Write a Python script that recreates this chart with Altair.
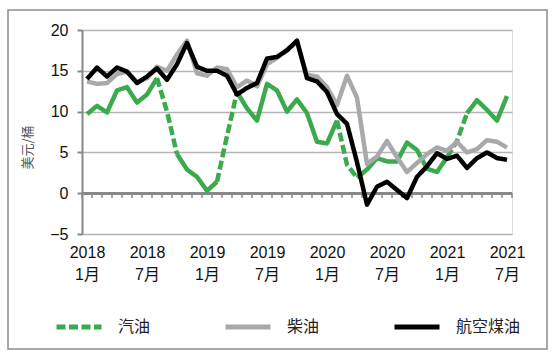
import json
import altair as alt
import pandas as pd

# ---- data ----
gasoline = [9.7, 10.7, 9.9, 12.6, 13.0, 11.1, 12.1, 14.1, 10.0, 4.8,
            2.9, 2.0, 0.3, 1.4, 7.0, 12.4, 10.4, 8.9, 13.4, 12.6,
            10.0, 11.5, 9.8, 6.3, 6.1, 8.9, 3.5, 1.9, 2.9, 4.3,
            3.9, 3.9, 6.2, 5.3, 3.0, 2.6, 4.4, 6.4, 9.8, 11.4,
            10.2, 8.9, 11.9]
diesel = [13.7, 13.4, 13.5, 14.6, 14.9, 13.6, 14.1, 15.5, 15.0, 17.0,
          18.7, 14.7, 14.4, 15.4, 15.2, 13.0, 13.8, 13.1, 15.8, 16.6,
          17.6, 18.5, 14.5, 14.3, 13.0, 10.8, 14.4, 11.7, 3.6, 4.5,
          6.4, 4.4, 2.6, 3.7, 4.8, 5.6, 5.2, 6.3, 5.0, 5.4,
          6.5, 6.3, 5.6]
jet_fuel = [14.0, 15.4, 14.3, 15.4, 14.9, 13.5, 14.3, 15.3, 13.9, 15.8,
            18.4, 15.5, 15.0, 15.0, 14.4, 12.1, 12.9, 13.5, 16.5, 16.7,
            17.5, 18.7, 14.1, 13.7, 12.4, 9.7, 8.5, 3.8, -1.4, 0.8,
            1.4, 0.4, -0.6, 2.0, 3.3, 4.9, 4.2, 4.6, 3.1, 4.3,
            5.0, 4.3, 4.1]
series_names = ["汽油", "柴油", "航空煤油"]
gasoline_dashed_spans = [(7, 9), (13, 15), (25, 27), (36, 38)]
tick_months = [0, 6, 12, 18, 24, 30, 36, 42]
tick_labels = [["2018", "1月"], ["2018", "7月"], ["2019", "1月"], ["2019", "7月"],
               ["2020", "1月"], ["2020", "7月"], ["2021", "1月"], ["2021", "7月"]]
y_ticks = [-5, 0, 5, 10, 15, 20]

n = len(gasoline)
SOLID_GAS = "汽油-实线"

rows = []
# gasoline split into solid and dashed runs
bounds = [0]
for a, b in gasoline_dashed_spans:
    bounds += [a, b]
bounds.append(n - 1)
dashed_set = set(gasoline_dashed_spans)
for k in range(len(bounds) - 1):
    a, b = bounds[k], bounds[k + 1]
    style = series_names[0] if (a, b) in dashed_set else SOLID_GAS
    for i in range(a, b + 1):
        rows.append(dict(i=i, v=gasoline[i], series=series_names[0], style=style, seg=f"g{k}"))
for name, vals in [(series_names[1], diesel), (series_names[2], jet_fuel)]:
    for i, v in enumerate(vals):
        rows.append(dict(i=i, v=v, series=name, style=name, seg=name))
df = pd.DataFrame(rows)

boundaries = pd.DataFrame({"b": [k - 0.5 for k in range(n + 1)]})

GREEN = "#3BAA4C"
GRAY = "#A7A9AC"
BLACK = "#000000"
FONT = "Liberation Sans, Noto Sans CJK SC"
CJK = "Noto Sans CJK SC"

label_expr = json.dumps(tick_labels, ensure_ascii=False) + "[round(datum.value/6)]"

x_enc = alt.X("i:Q",
              scale=alt.Scale(domain=[-0.5, n - 0.5], nice=False, zero=False),
              axis=alt.Axis(values=tick_months, labelExpr=label_expr, title=None,
                            domain=False, ticks=False, grid=False,
                            labelFont=FONT, labelFontSize=16, labelColor="#111",
                            labelPadding=10, labelLineHeight=22, labelBaseline="top"))
y_enc = alt.Y("v:Q",
              scale=alt.Scale(domain=[-5, 20], nice=False),
              axis=alt.Axis(values=y_ticks, title="美元/桶", titleFont=CJK,
                            titleFontSize=13, titleFontWeight="normal", titleColor="#555",
                            titleX=-55, titleY=117, titleAngle=-90,
                            titleAlign="center", titleBaseline="middle",
                            labelFont=FONT, labelFontSize=16, labelColor="#111",
                            labelPadding=9, tickSize=5, tickColor="#888", tickWidth=2,
                            domainColor="#888", domainWidth=2,
                            grid=True, gridColor="#B5B5B5", gridWidth=1.5))

legend = alt.Legend(values=series_names, title=None, orient="none",
                    legendX=-28, legendY=272, direction="horizontal",
                    symbolType="stroke", symbolSize=2025, symbolStrokeWidth=5,
                    labelFont=CJK, labelFontSize=16, labelColor="#222",
                    labelOffset=14, columnPadding=64)
style_domain = series_names + [SOLID_GAS]
color_enc = alt.Color("style:N", scale=alt.Scale(domain=style_domain, range=[GREEN, GRAY, BLACK, GREEN]),
                      legend=legend)
dash_enc = alt.StrokeDash("style:N", scale=alt.Scale(domain=style_domain,
                                                     range=[[9, 3.5], [1, 0], [1, 0], [1, 0]]),
                          legend=legend)

base = alt.Chart(df)

def series_layer(name):
    return base.transform_filter(alt.datum.series == name).mark_line(
        strokeWidth=4.5, strokeJoin="round", strokeCap="butt"
    ).encode(x=x_enc, y=y_enc, color=color_enc, strokeDash=dash_enc, detail="seg:N")

zero_line = alt.Chart(boundaries).mark_rule(color="#888", strokeWidth=2).encode(y=alt.datum(0))
zero_ticks = alt.Chart(boundaries).mark_rule(color="#888", strokeWidth=1.5).encode(
    x=alt.X("b:Q"), y=alt.datum(0), y2=alt.datum(-0.6))
frame = alt.Chart(boundaries.head(1)).mark_rect(fill=None, stroke="#8C8C8C", strokeWidth=1.5).encode(
    x=alt.value(-74), x2=alt.value(465), y=alt.value(-20), y2=alt.value(319))

chart = alt.layer(
    zero_line, zero_ticks,
    series_layer(series_names[0]), series_layer(series_names[1]), series_layer(series_names[2]),
    frame,
).properties(
    width=430, height=204,
    autosize=alt.AutoSizeParams(type="none"),
    padding={"left": 82, "top": 30, "right": 42, "bottom": 120},
).configure_view(stroke=None).configure(background="white")

chart.save("out.html", embed_options={"renderer": "svg", "actions": False})
